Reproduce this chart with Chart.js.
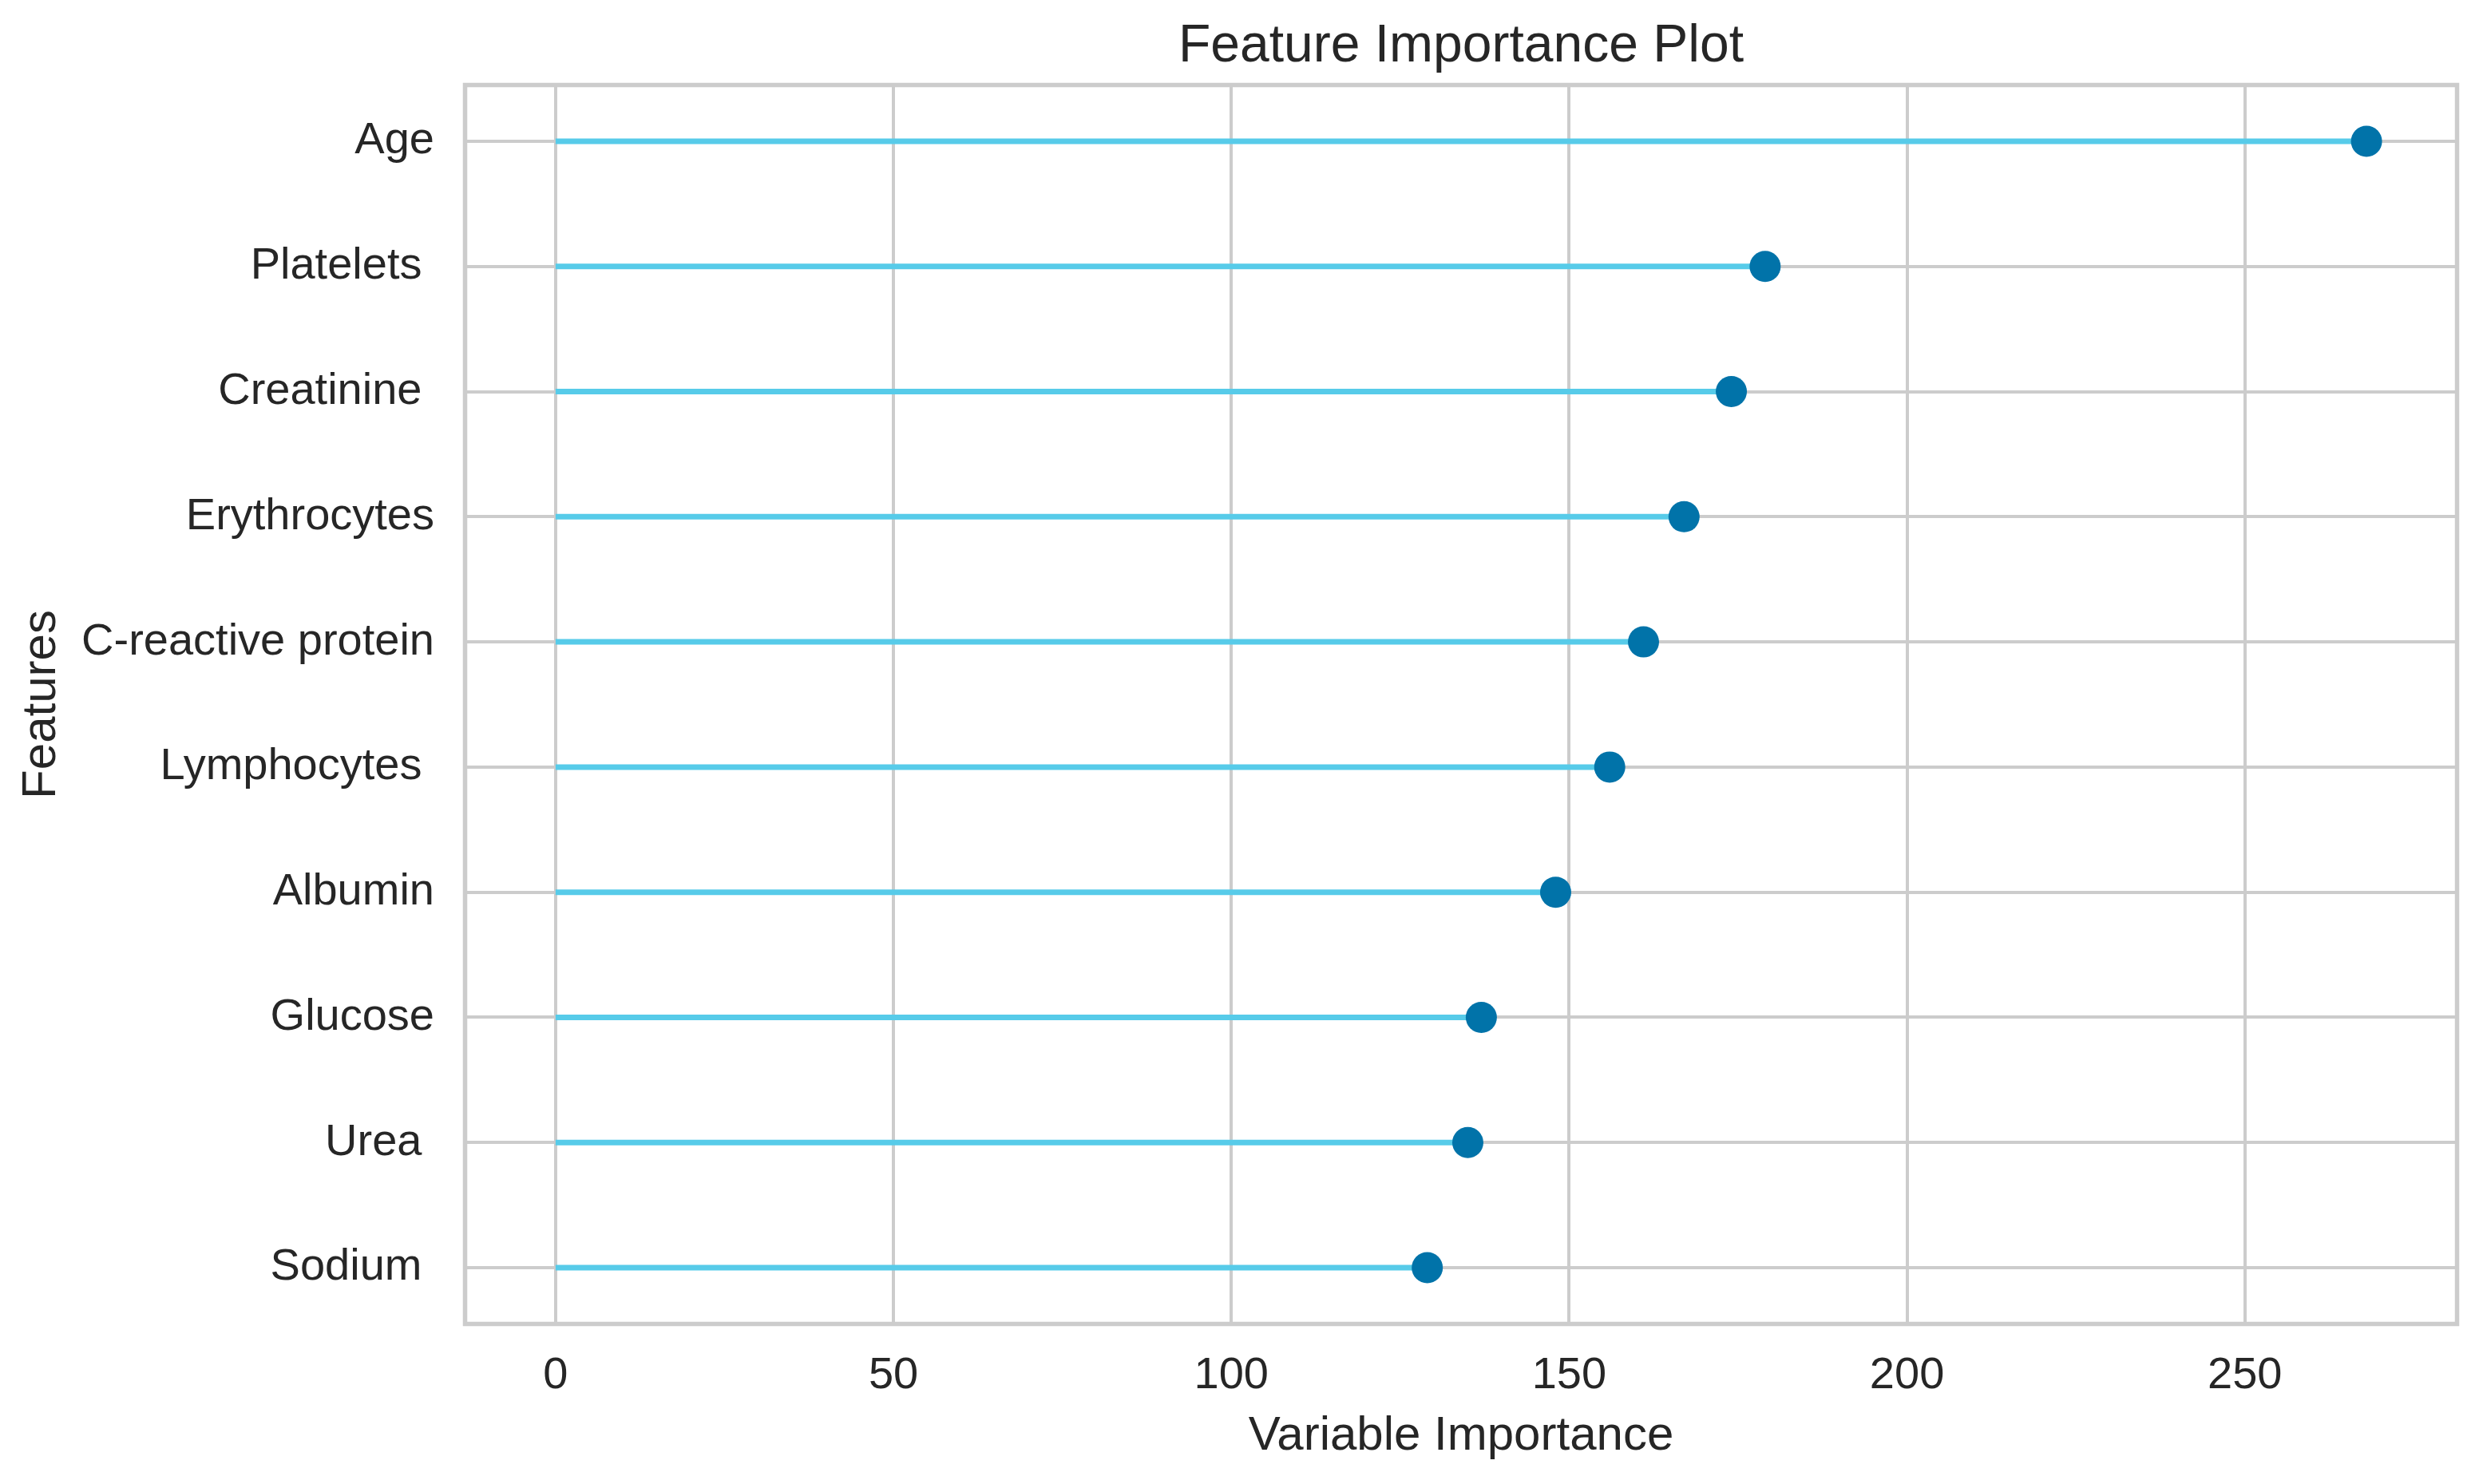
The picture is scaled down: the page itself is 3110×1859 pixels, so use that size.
<!DOCTYPE html>
<html>
<head>
<meta charset="utf-8">
<title>Feature Importance Plot</title>
<script src="https://cdn.jsdelivr.net/npm/chart.js@4.4.0/dist/chart.umd.min.js"></script>
<style>
  html, body { margin: 0; padding: 0; background: #ffffff; }
  canvas { display: block; }
</style>
</head>
<body>
<canvas id="featureChart" width="3110" height="1859"></canvas>
<script>
// values, top row first
const features = ['Age', 'Platelets ', 'Creatinine ', 'Erythrocytes', 'C-reactive protein',
  'Lymphocytes ', 'Albumin', 'Glucose', 'Urea ', 'Sodium '];
const importance = [268, 179, 174, 167, 161, 156, 148, 137, 135, 129];
const xTicks = [0, 50, 100, 150, 200, 250];
const xMin = -13.4;
const xMax = 281.4;

const stemColor = '#57cbe9';
const dotColor = '#0173a9';
const gridColor = '#cccccc';
const textColor = '#262626';
const fontFamily = '"Liberation Sans", Arial, sans-serif';

// matplotlib style frame around the axes, and title centred over the axes
const frameBox = {
  id: 'frameBox',
  afterLayout(chart) {
    const t = chart.titleBlock;
    if (t) {
      t.left = chart.chartArea.left;
      t.right = chart.chartArea.right;
    }
  },
  beforeDatasetsDraw(chart) {
    const {ctx, chartArea} = chart;
    ctx.save();
    ctx.strokeStyle = gridColor;
    ctx.lineWidth = 5.5;
    ctx.strokeRect(chartArea.left, chartArea.top, chartArea.right - chartArea.left, chartArea.bottom - chartArea.top);
    ctx.restore();
  }
};

const dots = {
  label: 'Importance',
  data: features.map((f, i) => ({x: importance[i], y: i})),
  pointRadius: 19.5,
  pointHoverRadius: 19.5,
  backgroundColor: dotColor,
  borderWidth: 0,
  showLine: false,
};

const stems = features.map((f, i) => ({
  label: f,
  data: [{x: 0, y: i}, {x: importance[i], y: i}],
  showLine: true,
  borderColor: stemColor,
  borderWidth: 7,
  borderCapStyle: 'butt',
  pointRadius: 0,
}));

const ctx = document.getElementById('featureChart').getContext('2d');
new Chart(ctx, {
  type: 'scatter',
  data: {
    datasets: [dots, ...stems],
  },
  options: {
    responsive: false,
    devicePixelRatio: 1,
    animation: false,
    layout: {
      padding: {left: 0, right: 32.5, top: 0, bottom: 0},
    },
    plugins: {
      legend: {display: false},
      tooltip: {enabled: false},
      title: {
        display: true,
        text: 'Feature Importance Plot',
        color: textColor,
        font: {family: fontFamily, size: 66, weight: 'normal', lineHeight: 1.2},
        padding: {top: 19, bottom: 8.3},
      },
    },
    scales: {
      x: {
        type: 'linear',
        min: xMin,
        max: xMax,
        afterBuildTicks: (axis) => { axis.ticks = xTicks.map(v => ({value: v})); },
        afterFit: (axis) => { axis.height = 200.5; },
        grid: {color: gridColor, lineWidth: 4, drawTicks: false},
        border: {display: false},
        ticks: {
          color: textColor,
          padding: 31,
          font: {family: fontFamily, size: 56},
        },
        title: {
          display: true,
          text: 'Variable Importance',
          color: textColor,
          font: {family: fontFamily, size: 60},
          padding: {top: 0, bottom: 24},
        },
      },
      y: {
        type: 'linear',
        reverse: true,
        min: -0.45,
        max: features.length - 1 + 0.45,
        afterBuildTicks: (axis) => { axis.ticks = features.map((f, i) => ({value: i})); },
        afterFit: (axis) => { axis.width = 582.5; },
        grid: {color: gridColor, lineWidth: 4, drawTicks: false},
        border: {display: false},
        ticks: {
          color: textColor,
          padding: 38.5,
          font: {family: fontFamily, size: 56},
          callback: (value) => features[value],
        },
        title: {
          display: true,
          text: 'Features',
          color: textColor,
          font: {family: fontFamily, size: 60},
          padding: {top: 16.5, bottom: 0},
        },
      },
    },
  },
  plugins: [frameBox],
});
</script>
</body>
</html>
